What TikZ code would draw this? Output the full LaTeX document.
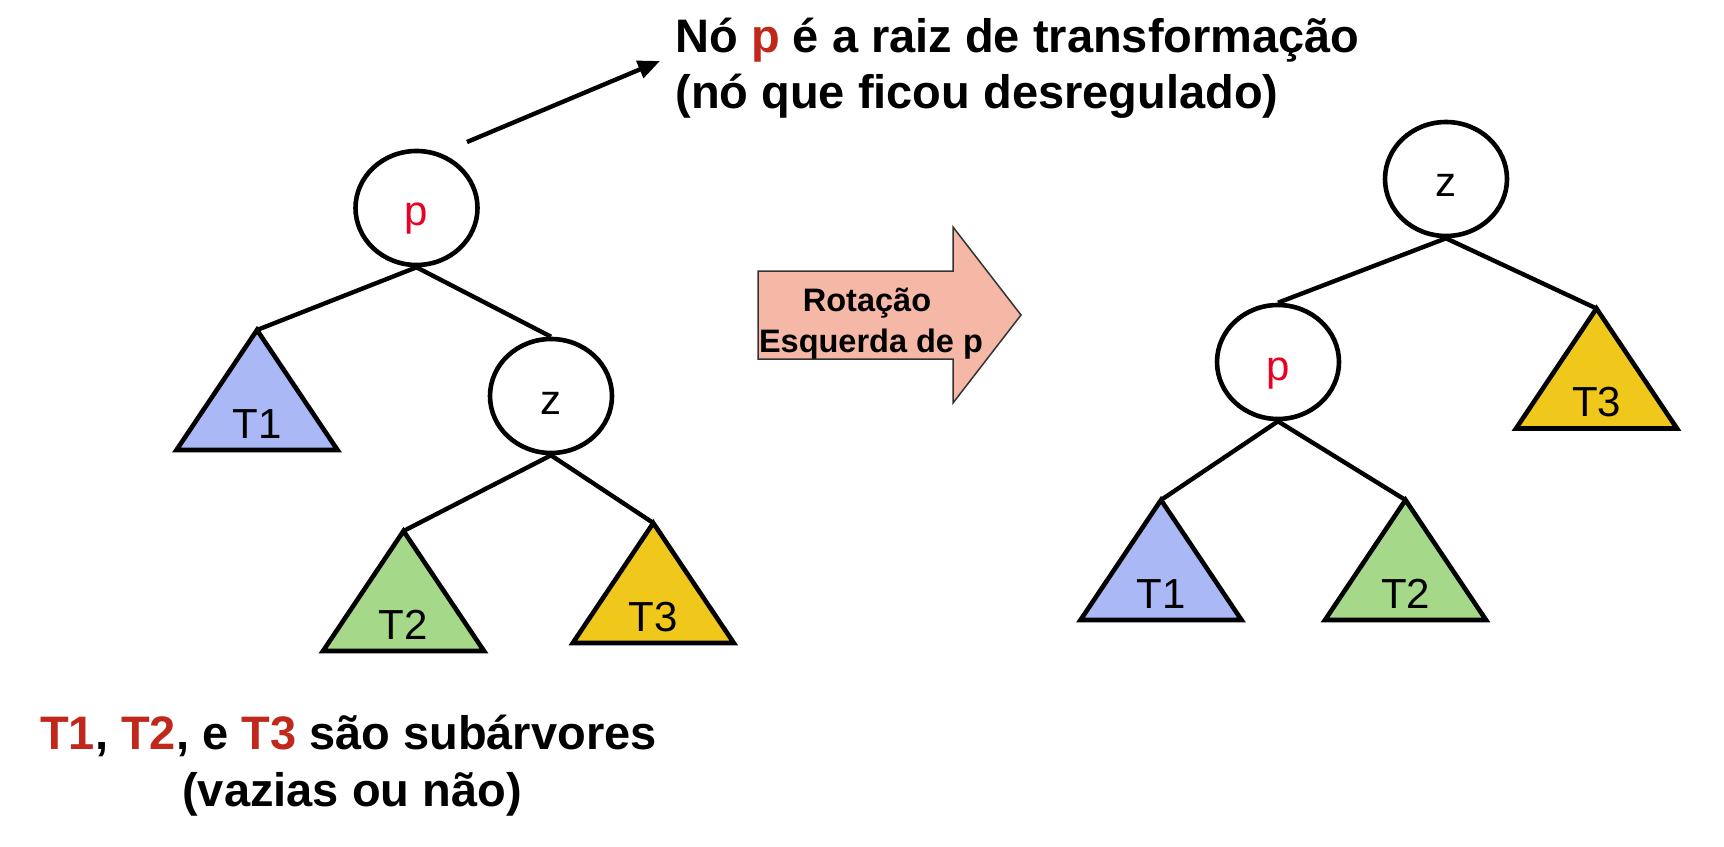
\documentclass[tikz,border=0pt]{standalone}
\usepackage{fontspec}
\setmainfont{Liberation Sans}
\usetikzlibrary{arrows.meta,shapes.geometric,calc}
\definecolor{tblue}{RGB}{170,184,245}
\definecolor{tgreen}{RGB}{166,216,138}
\definecolor{tyellow}{RGB}{240,200,28}
\definecolor{salmon}{RGB}{245,183,166}
\definecolor{dred}{RGB}{192,40,28}
\definecolor{pred}{RGB}{235,0,35}
\newcommand\mysubtree[5]{%
  \coordinate (#1) at (#2,#3);
  \draw[tri, fill=#4] (#1) -- ++(-80.5,120) -- ++(161,0) -- cycle;
  \node[tlbl, anchor=base] (#1lbl) at ($(#1)+(0,108)$) {#5};
}
\begin{document}
\begin{tikzpicture}[x=0.5pt,y=-0.5pt,
  circ/.style={ellipse, draw, line width=2.3pt, minimum width=61pt, minimum height=57pt, inner sep=0pt, fill=white},
  edge/.style={line width=2.2pt},
  tri/.style={draw, line width=2.3pt, line join=miter},
  tlbl/.style={font=\fontsize{21}{25}\selectfont, inner sep=0pt},
  big/.style={font=\bfseries\fontsize{23.5}{28}\selectfont, inner sep=0pt},
  mid/.style={font=\bfseries\fontsize{16.25}{20}\selectfont, inner sep=0pt}]
\useasboundingbox (0,0) rectangle (1724,846);

% ---------- left tree ----------
\node[circ] (lp) at (416.5,208) {};
\node[circ] (lz) at (551,396) {};
\node[tlbl, anchor=base, text=pred] (lplbl) at ($(lp.center)+(0,17)$) {p};
\node[tlbl, anchor=base] (lzlbl) at ($(lz.center)+(0,18)$) {z};
\mysubtree{lT1}{257}{330}{tblue}{T1}
\mysubtree{lT2}{403.5}{531}{tgreen}{T2}
\mysubtree{lT3}{653.3}{523}{tyellow}{T3}
\draw[edge] (lp.south) -- (lT1);
\draw[edge] (lp.south) -- (lz.north);
\draw[edge] (lz.south) -- (lT2);
\draw[edge] (lz.south) -- (lT3);

% ---------- right tree ----------
\node[circ] (rz) at (1446,179) {};
\node[circ] (rp) at (1278,362) {};
\node[tlbl, anchor=base] (rzlbl) at ($(rz.center)+(0,17)$) {z};
\node[tlbl, anchor=base, text=pred] (rplbl) at ($(rp.center)+(0,18)$) {p};
\mysubtree{rT3}{1596.5}{308.5}{tyellow}{T3}
\mysubtree{rT1}{1161}{500}{tblue}{T1}
\mysubtree{rT2}{1405.5}{500}{tgreen}{T2}
\draw[edge] (rz.south) -- (rp.north);
\draw[edge] (rz.south) -- (rT3);
\draw[edge] (rp.south) -- (rT1);
\draw[edge] (rp.south) -- (rT2);

% ---------- middle arrow ----------
\draw[fill=salmon, draw=black!80, line width=0.75pt]
  (758,271) -- (953,271) -- (953,227) -- (1021,315) -- (953,403) -- (953,359) -- (758,359) -- cycle;
\node[mid, anchor=base] (rot1) at (867,311) {Rotação};
\node[mid, anchor=base] (rot2) at (871,352) {Esquerda de p};

% ---------- top note ----------
\node[big, anchor=base west] (note1) at (675,52) {Nó \textcolor{dred}{p} é a raiz de transformação};
\node[big, anchor=base west] (note2) at (675,108) {(nó que ficou desregulado)};
\coordinate (pa) at (467,142);
\coordinate (na) at (660,61);
\draw[edge, -{Triangle[length=11pt,width=9pt]}] (pa) -- (na);

% ---------- bottom note ----------
\node[big, anchor=base] (foot1) at (348.5,749) {\textcolor{dred}{T1}, \textcolor{dred}{T2}, e \textcolor{dred}{T3} são subárvores};
\node[big, anchor=base] (foot2) at (352,806) {(vazias ou não)};
\end{tikzpicture}
\end{document}
